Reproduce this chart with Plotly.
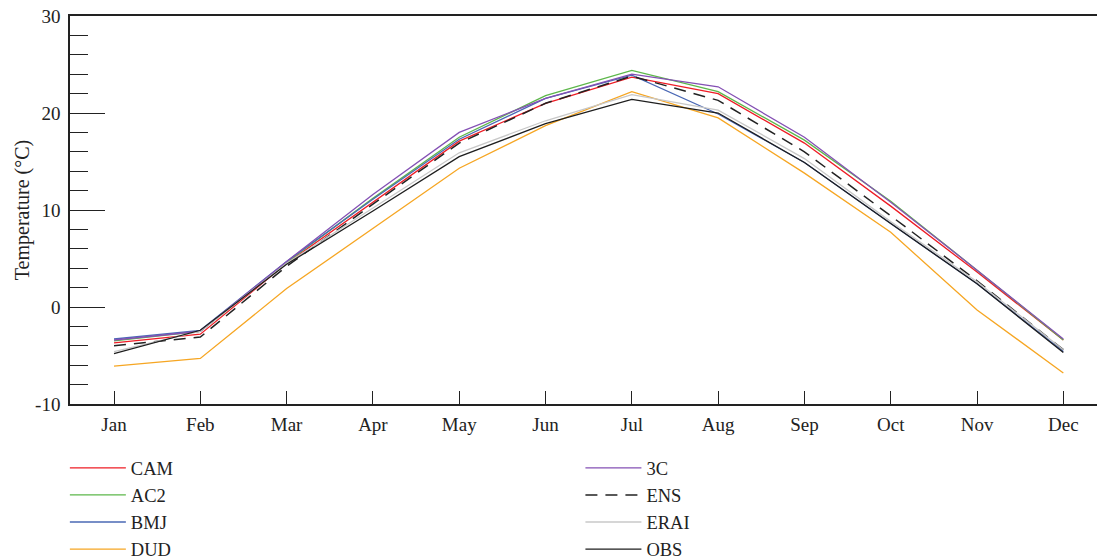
import plotly.graph_objects as go

months = ["Jan", "Feb", "Mar", "Apr", "May", "Jun", "Jul", "Aug", "Sep", "Oct", "Nov", "Dec"]

cam = [-3.7, -2.8, 4.5, 10.8, 17.1, 21.0, 23.7, 22.0, 16.9, 10.4, 3.6, -3.4]
ac2 = [-3.5, -2.5, 4.6, 11.2, 17.5, 21.8, 24.4, 22.2, 17.2, 10.9, 3.8, -3.4]
bmj = [-3.3, -2.4, 4.7, 11.1, 17.3, 21.5, 23.9, 19.9, 14.9, 8.6, 2.4, -4.6]
dud = [-6.1, -5.3, 1.9, 8.1, 14.3, 18.7, 22.2, 19.5, 13.8, 7.7, -0.3, -6.8]
c3 = [-3.4, -2.5, 4.7, 11.6, 18.0, 21.5, 24.0, 22.7, 17.5, 10.8, 3.8, -3.3]
ens = [-4.0, -3.1, 4.2, 10.6, 16.9, 21.0, 23.8, 21.3, 16.0, 9.4, 2.7, -4.4]
erai = [-4.6, -2.5, 4.5, 10.2, 15.9, 19.2, 21.9, 20.3, 15.3, 8.8, 2.6, -4.4]
obs = [-4.8, -2.4, 4.4, 9.9, 15.5, 18.9, 21.4, 20.0, 14.9, 8.6, 2.4, -4.7]

y_tickvals = [-10, 0, 10, 20, 30]
y_ticktext = ["-10", "0", "10", "20", "30"]

FONT = "Liberation Serif"

series = [
    ("CAM", cam, "#ee1c25", "solid", "legend"),
    ("AC2", ac2, "#5db74a", "solid", "legend"),
    ("BMJ", bmj, "#4a68b5", "solid", "legend"),
    ("DUD", dud, "#f6a623", "solid", "legend"),
    ("3C", c3, "#8450b4", "solid", "legend2"),
    ("ENS", ens, "#222222", "dash", "legend2"),
    ("ERAI", erai, "#c8c8c8", "solid", "legend2"),
    ("OBS", obs, "#1e1e1e", "solid", "legend2"),
]

fig = go.Figure()
for name, vals, color, dash, leg in series:
    fig.add_trace(go.Scatter(
        x=months, y=vals, name=name, mode="lines",
        line=dict(color=color, width=1.3 if dash == "solid" else 1.5,
                  dash="12px,8px" if dash == "dash" else "solid"),
        legend=leg,
    ))

legend_common = dict(
    orientation="v", xanchor="left", yanchor="top",
    font=dict(family=FONT, size=18.5, color="#222"),
    bgcolor="rgba(0,0,0,0)", itemwidth=56, tracegroupgap=0,
    traceorder="normal",
)

fig.update_layout(
    width=1100, height=560,
    margin=dict(l=70, r=3, t=16, b=156, autoexpand=False),
    paper_bgcolor="white", plot_bgcolor="white",
    font=dict(family=FONT, size=19, color="#222"),
    showlegend=True,
    legend=dict(x=-0.005, y=-0.117, **legend_common),
    legend2=dict(x=0.497, y=-0.117, **legend_common),
    xaxis=dict(
        type="category", range=[-0.51, 11.39],
        showline=True, linecolor="#222", linewidth=1.5, mirror=True,
        ticks="inside", ticklen=13, tickcolor="#222", tickwidth=1,
        showgrid=False, zeroline=False,
        tickfont=dict(family=FONT, size=19, color="#222"),
        ticklabelstandoff=2,
    ),
    yaxis=dict(
        range=[-10, 30],
        tickvals=y_tickvals, ticktext=y_ticktext,
        showline=True, linecolor="#222", linewidth=1.5,
        ticks="inside", ticklen=35, tickcolor="#222", tickwidth=1,
        minor=dict(ticks="inside", ticklen=18, dtick=2, tickcolor="#222", tickwidth=1, showgrid=False),
        showgrid=False, zeroline=False,
        tickfont=dict(family=FONT, size=19, color="#222"),
        ticklabelstandoff=4,
        title=dict(text="Temperature (°C)", font=dict(family=FONT, size=20, color="#222"), standoff=0),
    ),
)

fig.write_html("out.html")
